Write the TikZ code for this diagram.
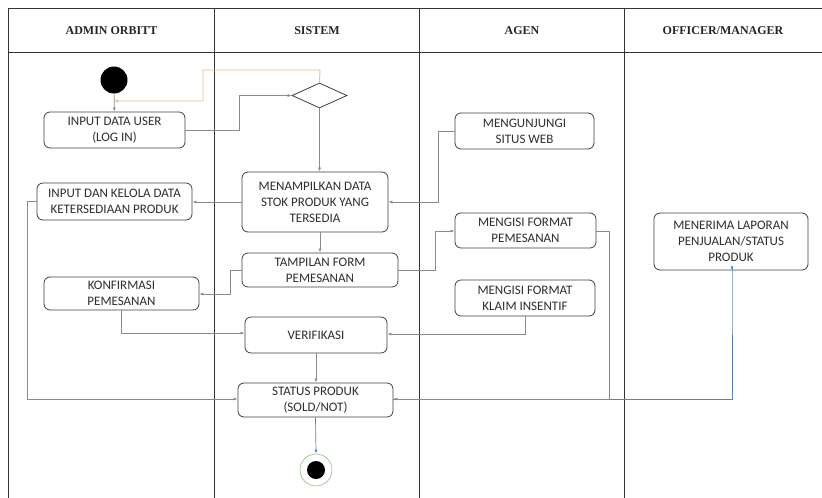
\documentclass[tikz,border=0pt]{standalone}
\usepackage{fontspec}
\setmainfont{Carlito}
\newfontfamily\headfont{Liberation Serif}
\usetikzlibrary{shapes.geometric,arrows.meta}

\definecolor{boxline}{HTML}{3F3F3F}
\definecolor{boxtext}{HTML}{2E2E2E}
\definecolor{flow}{HTML}{8A8A8A}
\definecolor{flowblue}{HTML}{5B7FC4}
\definecolor{backflow}{HTML}{F2B98A}
\definecolor{endring}{HTML}{9CC58A}

\tikzset{
  x=1pt, y=-1pt,
  lane/.style={draw=black!80, line width=0.9pt},
  head/.style={font=\headfont\bfseries\fontsize{12}{14}\selectfont, text=black!85},
  act/.style={draw=boxline, line width=0.8pt, rounded corners=6pt, fill=white,
    align=center, inner sep=0pt, text=boxtext,
    font=\fontsize{13}{16}\selectfont},
  conn/.style={draw=flow, line width=0.7pt, -{Latex[length=4pt,width=3pt]}},
  connblue/.style={draw=flowblue, line width=0.7pt, -{Latex[length=4pt,width=3pt]}},
  connback/.style={draw=backflow, line width=0.9pt, -{Latex[length=4pt,width=3pt]}},
}

\begin{document}
\begin{tikzpicture}
\useasboundingbox (0,0) rectangle (822,498);

% swimlane frame
\draw[lane] (822,8) -- (8.5,8) -- (8.5,498);
\draw[lane] (8.5,52) -- (822,52);
\draw[lane] (214.5,8) -- (214.5,498);
\draw[lane] (419.5,8) -- (419.5,498);
\draw[lane] (624.5,8) -- (624.5,498);

% lane titles
\node[head] (hadmin) at (111.5,31) {ADMIN ORBITT};
\node[head] (hsistem) at (317,31) {SISTEM};
\node[head] (hagen) at (522,31) {AGEN};
\node[head] (hofficer) at (723,31) {OFFICER/MANAGER};

% start / end
\node[circle, fill=black, minimum size=27pt, inner sep=0pt] (start) at (114,80) {};
\node[circle, draw=endring, line width=0.7pt, fill=white, minimum size=32pt, inner sep=0pt] (finish) at (316,470) {};
\node[circle, fill=black, minimum size=18pt, inner sep=0pt] (finishdot) at (316,470) {};

% decision
\node[diamond, draw=boxline, line width=0.8pt, inner sep=0pt,
      minimum width=55pt, minimum height=25pt] (dec) at (319.5,95.5) {};

% activities
\node[act, minimum width=141pt, minimum height=36pt] (login) at (114.5,130) {INPUT DATA USER\\(LOG IN)};
\node[act, minimum width=155pt, minimum height=37pt] (kelola) at (114.5,201.5) {INPUT DAN KELOLA DATA\\KETERSEDIAAN PRODUK};
\node[act, minimum width=155pt, minimum height=33pt] (konf) at (121.5,293.5) {KONFIRMASI\\PEMESANAN};
\node[act, minimum width=146pt, minimum height=60pt] (tampil) at (315,202) {MENAMPILKAN DATA\\STOK PRODUK YANG\\TERSEDIA};
\node[act, minimum width=156pt, minimum height=34pt] (form) at (320,270) {TAMPILAN FORM\\PEMESANAN};
\node[act, minimum width=142pt, minimum height=36pt] (verif) at (316,335) {VERIFIKASI};
\node[act, minimum width=155pt, minimum height=34pt] (status) at (315.5,400) {STATUS PRODUK\\(SOLD/NOT)};
\node[act, minimum width=139pt, minimum height=36pt] (kunjung) at (524.5,131) {MENGUNJUNGI\\SITUS WEB};
\node[act, minimum width=141pt, minimum height=35pt] (isi) at (525.5,230.5) {MENGISI FORMAT\\PEMESANAN};
\node[act, minimum width=140pt, minimum height=36pt] (klaim) at (525,298) {MENGISI FORMAT\\KLAIM INSENTIF};
\node[act, minimum width=154pt, minimum height=57pt] (terima) at (731,241.5) {MENERIMA LAPORAN\\PENJUALAN/STATUS\\PRODUK};

% join point of the return path on the start arrow
\coordinate (backin) at (114,101);

% connectors
\draw[conn] (start) -- (login);
\draw[connback] (dec.north) -- (320,70) -- (203,70) -- (203,101) -- (backin);
\draw[conn] (login.east) -- (239,130) -- (239,95.5) -- (dec.west);
\draw[conn] (dec.south) -- (dec.south |- tampil.north);
\draw[conn] (tampil.west) -- (kelola.east |- tampil.west);
\draw[conn] (kelola.west) -- (27,201.5) -- (27,399) -- (status.west |- 0,399);
\draw[conn] (form.north |- tampil.south) -- (form.north);
\draw[conn] (form.west) -- (230,270) -- (230,294) -- (konf.east |- 0,294);
\draw[conn] (konf.south) -- (121.5,333) -- (verif.west |- 0,333);
\draw[conn] (verif.south) -- (verif.south |- status.north);
\draw[conn] (kunjung.west) -- (438,131) -- (438,202) -- (tampil.east);
\draw[conn] (form.east) -- (435,270) -- (435,231) -- (isi.west |- 0,231);
\draw[connblue] (status.east |- 0,399) -- (732,399) -- (732,270) -- (terima.south -| 732,0);
\draw[conn] (isi.east |- 0,231) -- (609,231) -- (609,399) -- (status.east |- 0,399);
\draw[conn] (klaim.south) -- (525,334) -- (verif.east |- 0,334);
\draw[connblue] (status.south) -- (finish.north);
\end{tikzpicture}
\end{document}
